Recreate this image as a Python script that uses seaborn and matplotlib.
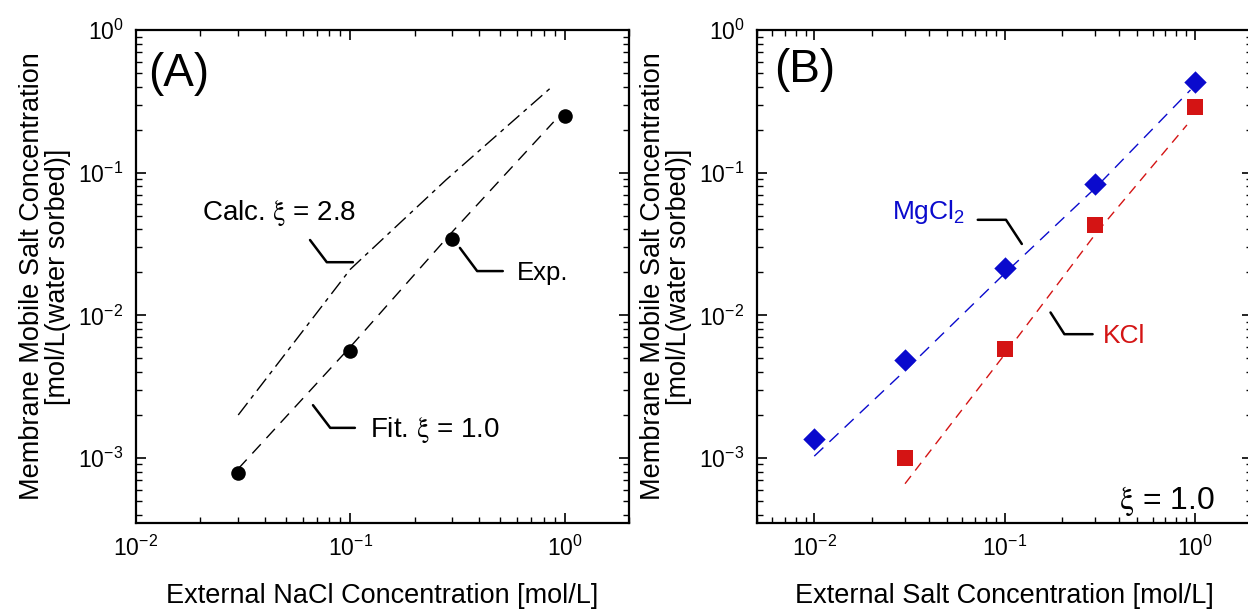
import numpy as np
import pandas as pd
import matplotlib
matplotlib.use("Agg")
import matplotlib.pyplot as plt
import matplotlib.ticker as mticker
import seaborn as sns

# ---------------- data ----------------
# Panel A (NaCl)
nacl_exp_x = [0.03, 0.1, 0.3, 1.0]
nacl_exp_y = [7.8e-4, 5.6e-3, 0.0345, 0.25]
nacl_fit_x = [0.03, 0.1, 0.3, 0.89]
nacl_fit_y = [8.4e-4, 6.0e-3, 0.0386, 0.227]
nacl_calc_x = [0.03, 0.1, 0.28, 0.89]
nacl_calc_y = [2.0e-3, 0.021, 0.089, 0.41]

# Panel B (MgCl2 and KCl)
mgcl2_x = [0.01, 0.03, 0.1, 0.3, 1.0]
mgcl2_y = [1.36e-3, 4.86e-3, 0.0216, 0.0826, 0.435]
mgcl2_fit_x = [0.01, 0.03, 0.1, 0.3, 0.95]
mgcl2_fit_y = [1.03e-3, 4.1e-3, 0.0196, 0.078, 0.38]
kcl_x = [0.03, 0.1, 0.3, 1.0]
kcl_y = [1.0e-3, 5.8e-3, 0.0427, 0.288]
kcl_fit_x = [0.03, 0.1, 0.3, 0.91]
kcl_fit_y = [6.6e-4, 5.3e-3, 0.037, 0.216]

x_ticks = [1e-2, 1e-1, 1e0]
y_ticks = [1e-3, 1e-2, 1e-1, 1e0]

BLUE = "#0A0ACD"
RED = "#D41414"

sns.set_theme(style="ticks")
plt.rcParams["font.family"] = ["Liberation Sans", "DejaVu Sans"]
plt.rcParams["mathtext.default"] = "regular"
plt.rcParams["mathtext.fontset"] = "stix"
for key in ["text.color", "axes.labelcolor", "xtick.color", "ytick.color",
            "axes.edgecolor"]:
    plt.rcParams[key] = "black"

XI = r"$\mathrm{\xi}$"

fig = plt.figure(figsize=(12.48, 6.09), dpi=100)
W, H = 1248.0, 609.0
axA = fig.add_axes([136 / W, (H - 523) / H, 493 / W, 493 / H])
axB = fig.add_axes([757 / W, (H - 523) / H, 495 / W, 493 / H])


def pow_label(v, pos):
    n = int(round(np.log10(v)))
    return "10$^{\\mathdefault{%d}}$" % n if n >= 0 else "10$^{\\mathdefault{-%d}}$" % (-n)


def style_axis(ax, xlim, ylim):
    ax.set_xscale("log")
    ax.set_yscale("log")
    ax.set_xlim(*xlim)
    ax.set_ylim(*ylim)
    ax.set_xticks(x_ticks)
    ax.set_yticks(y_ticks)
    ax.xaxis.set_major_formatter(mticker.FuncFormatter(pow_label))
    ax.yaxis.set_major_formatter(mticker.FuncFormatter(pow_label))
    ax.tick_params(which="both", direction="in", top=True, right=True,
                   colors="black", labelcolor="black", labelsize=16.5)
    ax.tick_params(which="major", length=7, width=1.2, pad=9)
    ax.tick_params(which="minor", length=4, width=1.0)
    for s in ax.spines.values():
        s.set_linewidth(1.6)
        s.set_color("black")
    ax.grid(False)
    ax.set_ylabel("Membrane Mobile Salt Concentration\n[mol/L(water sorbed)]",
                  fontsize=19.5, labelpad=5, linespacing=1.0, color="black")


def line(ax, x, y, color, dashes, lw=1.0):
    df = pd.DataFrame({"x": x, "y": y})
    sns.lineplot(data=df, x="x", y="y", ax=ax, color=color, linewidth=lw,
                 estimator=None, sort=False)
    ax.lines[-1].set_dashes(dashes)


# ---------------- Panel A ----------------
line(axA, nacl_calc_x, nacl_calc_y, "black", (11, 4, 3, 4))
line(axA, nacl_fit_x, nacl_fit_y, "black", (9, 6))
sns.scatterplot(x=nacl_exp_x, y=nacl_exp_y, ax=axA, color="black", s=110,
                marker="o", edgecolor="black", linewidth=0, zorder=5)
style_axis(axA, (0.01, 2.0), (3.5e-4, 1.0))
axA.set_xlabel("External NaCl Concentration [mol/L]", fontsize=19.5,
               labelpad=16, color="black")

tA = axA.transAxes
axA.text(0.024, 0.911, "(A)", transform=tA, fontsize=33, ha="left", va="center")
axA.plot([0.353, 0.387, 0.440], [0.574, 0.529, 0.529], color="black", lw=1.8,
         transform=tA)
axA.text(0.134, 0.629, "Calc. " + XI + " = 2.8", transform=tA, fontsize=20,
         ha="left", va="center")
axA.plot([0.657, 0.692, 0.744], [0.558, 0.511, 0.511], color="black", lw=1.8,
         transform=tA)
axA.text(0.773, 0.507, "Exp.", transform=tA, fontsize=18.5, ha="left", va="center")
axA.plot([0.359, 0.394, 0.444], [0.239, 0.193, 0.193], color="black", lw=1.8,
         transform=tA)
axA.text(0.475, 0.189, "Fit. " + XI + " = 1.0", transform=tA, fontsize=20,
         ha="left", va="center")

# ---------------- Panel B ----------------
line(axB, mgcl2_fit_x, mgcl2_fit_y, BLUE, (9, 6))
line(axB, kcl_fit_x, kcl_fit_y, RED, (7, 5))
sns.scatterplot(x=mgcl2_x, y=mgcl2_y, ax=axB, color=BLUE, s=130, marker="D",
                linewidth=0, zorder=5)
sns.scatterplot(x=kcl_x, y=kcl_y, ax=axB, color=RED, s=130, marker="s",
                linewidth=0, zorder=5)
style_axis(axB, (0.005, 2.0), (3.5e-4, 1.0))
axB.set_xlabel("External Salt Concentration [mol/L]", fontsize=19.5,
               labelpad=16, color="black")

tB = axB.transAxes
axB.text(0.034, 0.919, "(B)", transform=tB, fontsize=33, ha="left", va="center")
axB.plot([0.446, 0.503, 0.535], [0.615, 0.615, 0.566], color="black", lw=1.8,
         transform=tB)
axB.text(0.42, 0.63, "MgCl$_{\\mathdefault{2}}$", transform=tB, fontsize=19,
         ha="right", va="center", color=BLUE)
axB.plot([0.593, 0.621, 0.678], [0.427, 0.383, 0.383], color="black", lw=1.8,
         transform=tB)
axB.text(0.698, 0.38, "KCl", transform=tB, fontsize=19, ha="left", va="center",
         color=RED)
axB.text(0.925, 0.028, XI + " = 1.0", transform=tB, fontsize=23, ha="right",
         va="baseline")

fig.savefig("out.png", dpi=100)
